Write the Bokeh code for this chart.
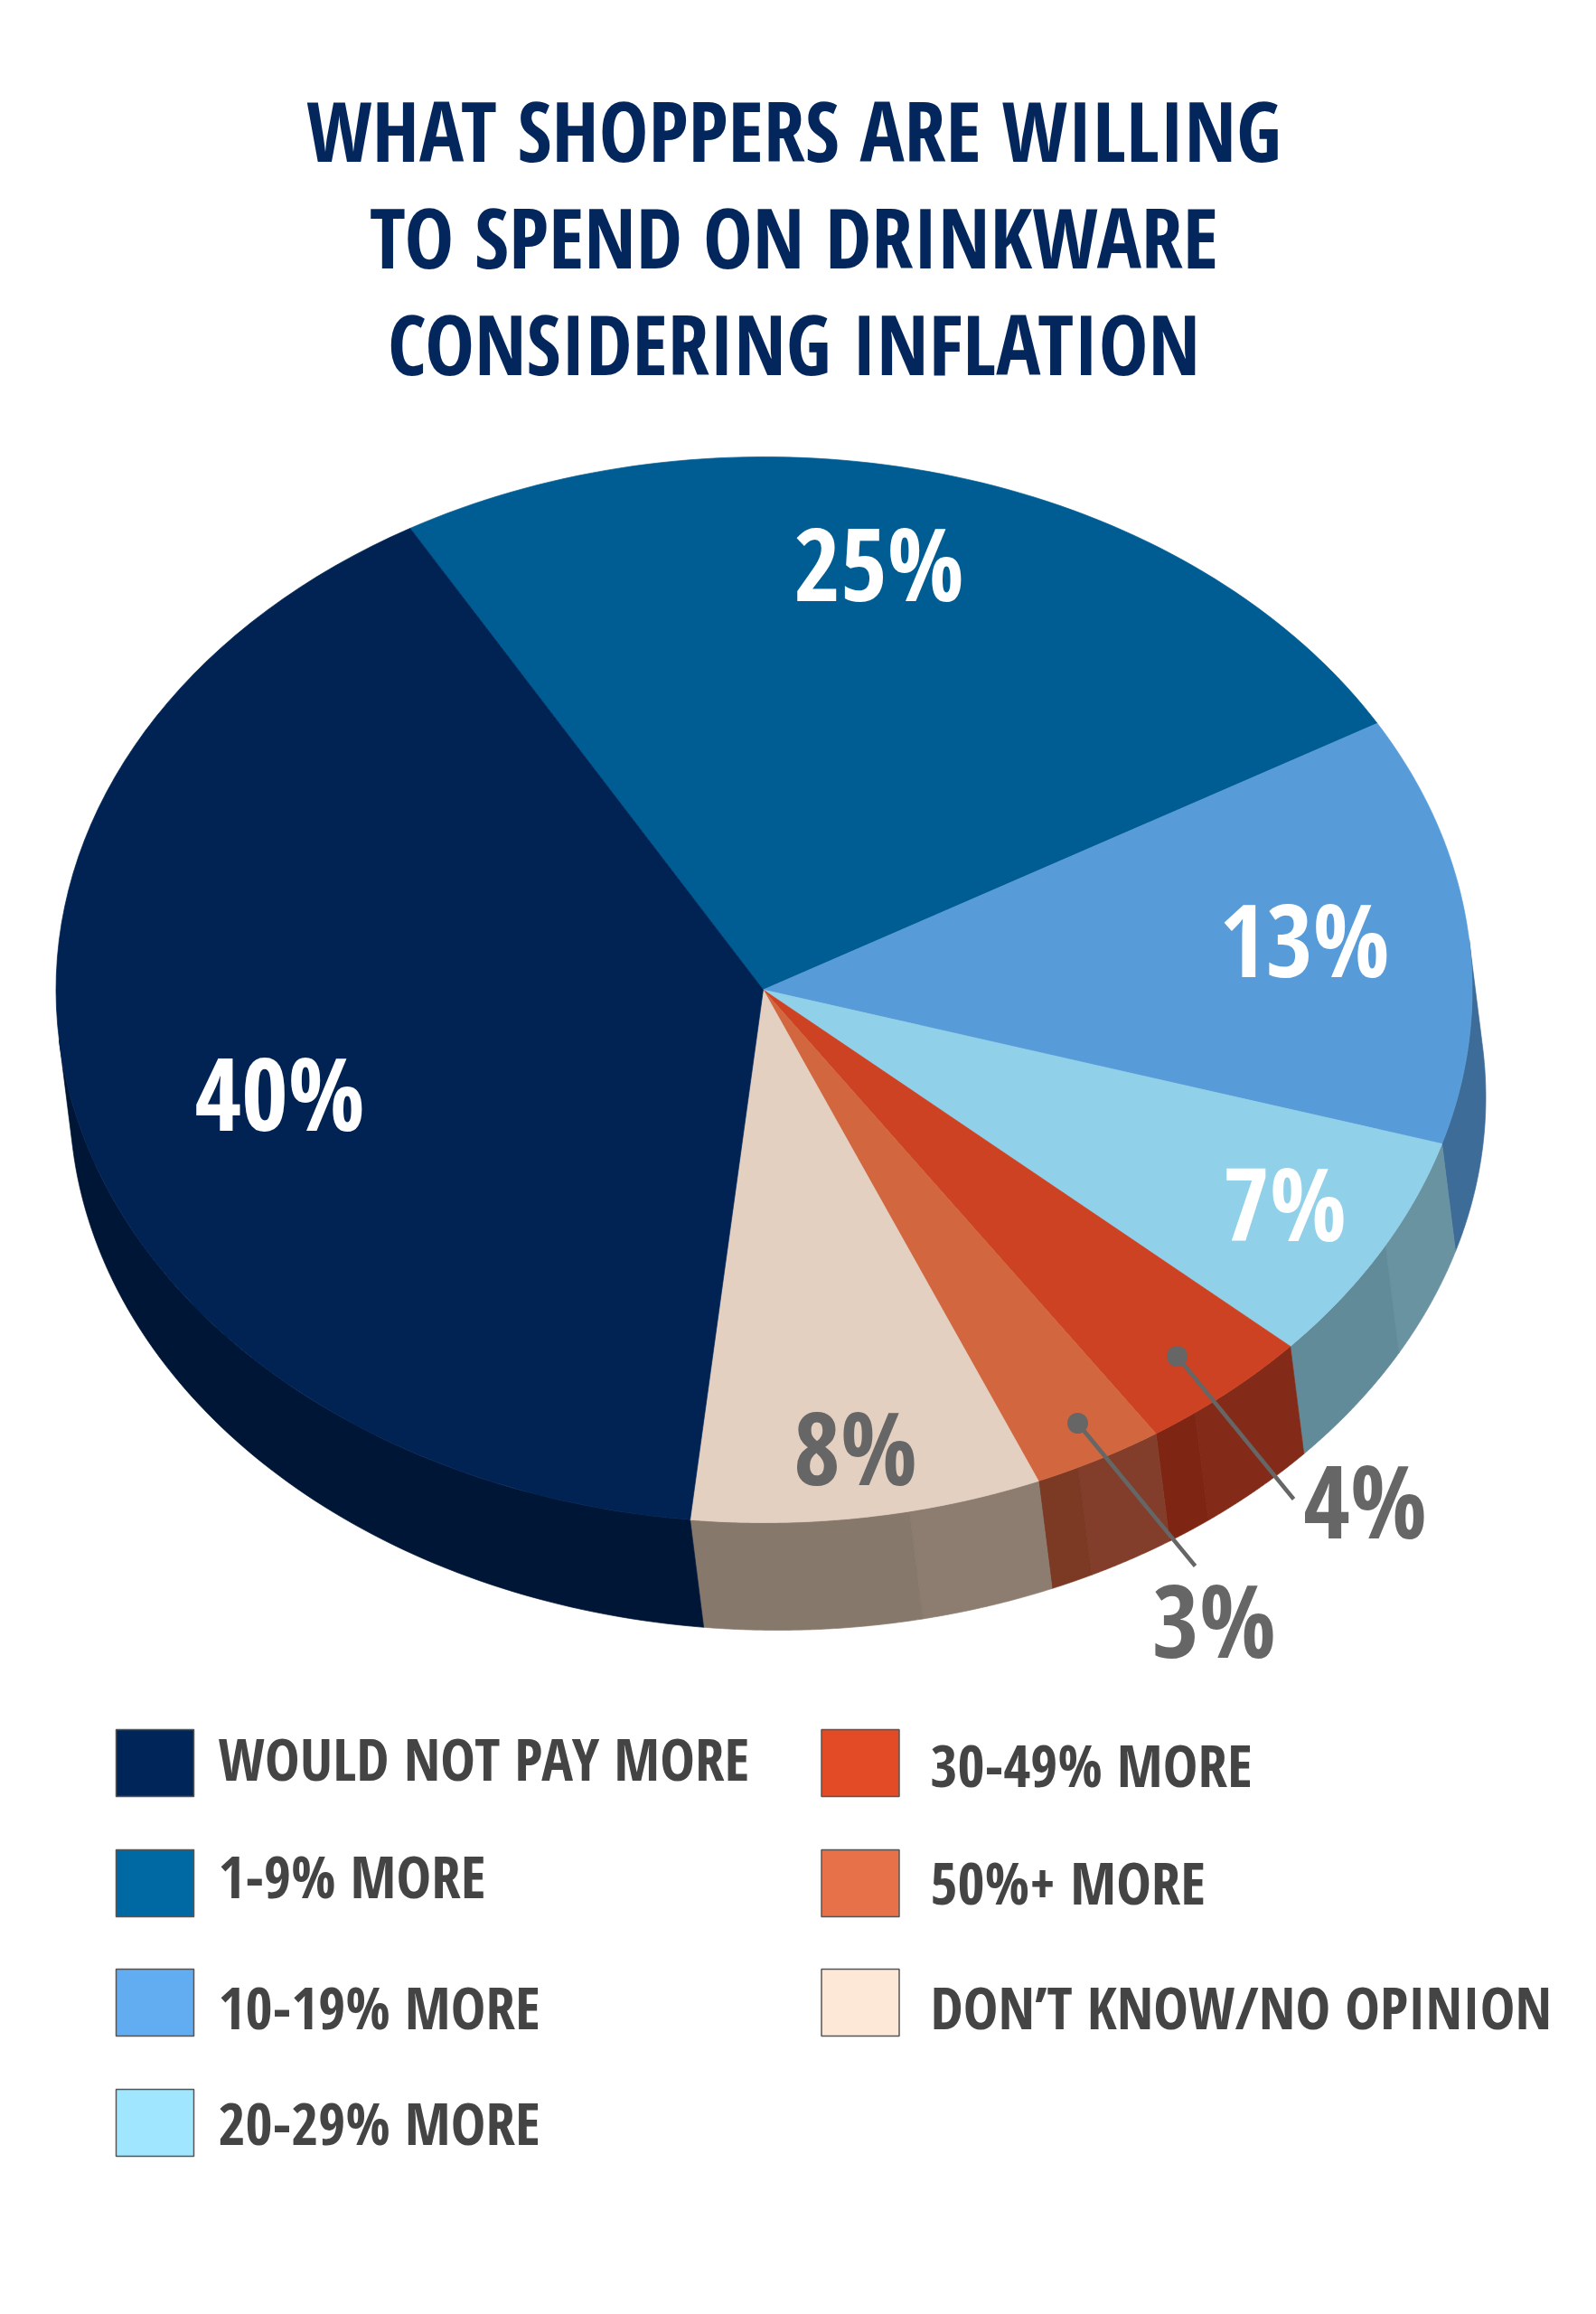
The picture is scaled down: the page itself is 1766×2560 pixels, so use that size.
import numpy as np
from bokeh.plotting import figure
from bokeh.models import Range1d
from bokeh.core.properties import value
from bokeh.embed import file_html
from bokeh.resources import INLINE

# ---- data ----
categories = ["1-9% MORE", "10-19% MORE", "20-29% MORE", "30-49% MORE",
              "50%+ MORE", "DON\u2019T KNOW/NO OPINION", "WOULD NOT PAY MORE"]
shares = [25, 13, 7, 4, 3, 8, 40]
share_labels = ["25%", "13%", "7%", "4%", "3%", "8%", "40%"]
title_lines = ["WHAT SHOPPERS ARE WILLING", "TO SPEND ON DRINKWARE", "CONSIDERING INFLATION"]
legend_order = ["WOULD NOT PAY MORE", "1-9% MORE", "10-19% MORE", "20-29% MORE",
                "30-49% MORE", "50%+ MORE", "DON\u2019T KNOW/NO OPINION"]

# ---- styles / layout ----
top_colors = ["#005d94", "#579cd9", "#90d0e8", "#cc4222", "#d2673f", "#e4d0c1", "#002353"]
side_light = ["#004069", "#3d6c98", "#6a93a2", "#842a18", "#823e2a", "#8c7d70", "#001636"]
side_dark = ["#004069", "#3d6c98", "#628b9a", "#7f2514", "#7c3a25", "#87786c", "#001636"]
side_break = [1.0, 1.0, 0.47, 0.73, 0.67, 0.38, 1.0]
legend_colors = ["#002659", "#0068a3", "#62acf1", "#a1e6ff", "#e34b26", "#e77249", "#fde8d7"]
CX, CY, RX, RY = 845.0, 1094.5, 783.5, 589.5
PX, PY = 844.0, 1094.5
DX, DY = 15.0, 119.0
START = 120.0
TAN = np.degrees(np.arctan((DX / DY) * (RY / RX)))
NAVY, GREY = "#03275c", "#444444"
FONT = value("Open Sans Condensed")
BASE = 0.41  # this font's alphabetic baseline sits lower by this share of its size

TITLE_SIZE, LABEL_SIZE, LEGEND_SIZE = 92, 112, 65

label_x = [972, 1443, 1421, 1510, 1343, 946, 309]
label_y = [667, 1083, 1375, 1704, 1836, 1645, 1253]
label_col = ["#ffffff", "#ffffff", "#ffffff", "#666666", "#666666", "#666666", "#ffffff"]
leader_from = {"4%": (1302, 1500), "3%": (1192, 1574)}
leader_to = {"4%": (1431, 1658), "3%": (1322, 1732)}

p = figure(width=1750, height=2544, output_backend="svg", toolbar_location=None,
           x_range=Range1d(0, 1750), y_range=Range1d(2544, 0),
           min_border=0, background_fill_color="#ffffff", border_fill_color="#ffffff",
           outline_line_color=None)
p.axis.visible = False
p.grid.visible = False


def arc(t0, t1, dx=0.0, dy=0.0):
    t = np.radians(np.linspace(t0, t1, 80))
    return CX + dx + RX * np.cos(t), CY + dy - RY * np.sin(t)


edges = START - np.cumsum([0] + shares) * 3.6

# side wall, light and dark facet of each slice, clipped to the visible rim
sx, sy, sc = [], [], []
for i in range(len(shares)):
    a0, a1 = edges[i], edges[i + 1]
    mid = a0 + (a1 - a0) * side_break[i]
    for s0, s1, col in ((a0, mid, side_light[i]), (mid, a1, side_dark[i])):
        u0, u1 = min(s0, TAN), max(s1, TAN - 180)
        if u0 <= u1:
            continue
        x0, y0 = arc(u0, u1)
        x1, y1 = arc(u1, u0, DX, DY)
        sx.append(np.r_[x0, x1]); sy.append(np.r_[y0, y1]); sc.append(col)
p.patches(sx, sy, fill_color=sc, line_color=sc, line_width=0.7)

# top face
tx, ty = [], []
for i in range(len(shares)):
    x0, y0 = arc(edges[i], edges[i + 1])
    tx.append(np.r_[PX, x0]); ty.append(np.r_[PY, y0])
p.patches(tx, ty, fill_color=top_colors, line_color=top_colors, line_width=0.7)


def ups(ys, size):
    return [y - BASE * size for y in ys]


# title
p.text([878, 878, 878], ups([181, 299, 417], TITLE_SIZE), text=title_lines, text_font=FONT,
       text_font_style="bold", text_font_size=f"{TITLE_SIZE}px", text_color=NAVY,
       text_align="center", text_baseline="alphabetic")

# leaders
for k in leader_from:
    a, b = leader_from[k], leader_to[k]
    p.line([a[0], b[0]], [a[1], b[1]], line_color="#666666", line_width=4.5)
    p.scatter([a[0]], [a[1]], size=23, fill_color="#666666", line_color=None)

# share labels
p.text(label_x, ups(label_y, LABEL_SIZE), text=share_labels, text_font=FONT, text_font_style="bold",
       text_font_size=f"{LABEL_SIZE}px", text_color=label_col, text_align="center",
       text_baseline="alphabetic")

# legend
sw_x = [171, 171, 171, 171, 951.5, 951.5, 951.5]
sw_y = [1950, 2083, 2215, 2348, 1950, 2083, 2215]
lt_x = [241, 241, 241, 241, 1029, 1029, 1029]
lt_y = [1971, 2101, 2246, 2374, 1978, 2108, 2246]
p.rect(sw_x, sw_y, width=86, height=74, fill_color=legend_colors, line_color="#555555", line_width=1.5)
p.text(lt_x, ups(lt_y, LEGEND_SIZE), text=legend_order, text_font=FONT, text_font_style="bold",
       text_font_size=f"{LEGEND_SIZE}px", text_color=GREY, text_align="left", text_baseline="alphabetic")

open("out.html", "w").write(file_html(p, INLINE))
